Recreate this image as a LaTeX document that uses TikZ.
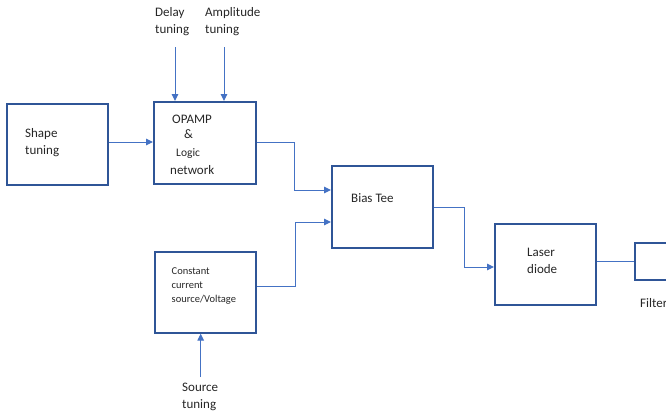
\documentclass[tikz,border=0pt]{standalone}
\usepackage{fontspec}
\setmainfont{Carlito}
\usetikzlibrary{arrows.meta}
\definecolor{boxblue}{HTML}{2F5597}
\definecolor{lineblue}{HTML}{4472C4}
\begin{document}
\begin{tikzpicture}[x=1pt,y=-1pt,
  blk/.style={draw=boxblue,line width=1.6pt,inner sep=0,minimum width=0,anchor=north west},
  conn/.style={draw=lineblue,line width=1pt},
  arr/.style={conn,-{Triangle[length=7pt,width=6.5pt]}},
  txt/.style={inner sep=0,anchor=base west,align=left,font=\fontsize{13}{17}\selectfont,text=black!85},
  stxt/.style={txt,font=\fontsize{10.5}{14}\selectfont}]
\useasboundingbox (0,0) rectangle (666,418);
\begin{scope}
\clip (0,0) rectangle (666,418);
% boxes
\node[blk,minimum width=101pt,minimum height=81pt] (shape) at (6,103) {};
\node[blk,minimum width=102pt,minimum height=82pt] (opamp) at (153,101) {};
\node[blk,minimum width=101pt,minimum height=82pt] (bias) at (331,165) {};
\node[blk,minimum width=101pt,minimum height=81pt] (laser) at (494,223) {};
\node[blk,minimum width=60pt,minimum height=37pt] (filter) at (634,242) {};
\node[blk,minimum width=101pt,minimum height=81pt] (ccs) at (154,251) {};
% texts
\node[txt] (tdelay) at (155,16) {Delay};
\node[txt] (tdelay2) at (155,33) {tuning};
\node[txt] (tamp) at (205,16) {Amplitude};
\node[txt] (tamp2) at (205,33) {tuning};
\node[txt] (tshape) at (25,137) {Shape};
\node[txt] (tshape2) at (25,154) {tuning};
\node[txt] at (172,123) {OPAMP};
\node[txt] at (184,138) {\&};
\node[txt,font=\fontsize{11.5}{14}\selectfont] at (176,156) {Logic};
\node[txt] at (170,174) {network};
\node[txt] at (351,202) {Bias Tee};
\node[txt] at (527,256) {Laser};
\node[txt] at (527,273) {diode};
\node[txt] at (640,307) {Filter};
\node[stxt] at (171.5,274) {Constant};
\node[stxt] at (171.5,288.5) {current};
\node[stxt] at (171.5,302) {source/Voltage};
\node[txt] (tsrc) at (182,391) {Source};
\node[txt] at (182,408) {tuning};
% connector endpoints
\coordinate (d0) at (175,47);
\coordinate (a0) at (224,47);
\coordinate (s0) at (200.7,377);
% connectors
\draw[arr] (shape.east |- 0,142) -- (opamp.west |- 0,142);
\draw[arr] (d0) -- (d0 |- opamp.north);
\draw[arr] (a0) -- (a0 |- opamp.north);
\draw[arr] (opamp.east |- 0,142) -| (294,190) -- (bias.west |- 0,190);
\draw[arr] (ccs.east |- 0,286) -| (295,222) -- (bias.west |- 0,222);
\draw[arr] (bias.east |- 0,207) -| (464,267) -- (laser.west |- 0,267);
\draw[conn] (laser.east |- 0,261) -- (filter.west |- 0,261);
\draw[arr] (s0) -- (s0 |- ccs.south);
\end{scope}
\end{tikzpicture}
\end{document}
